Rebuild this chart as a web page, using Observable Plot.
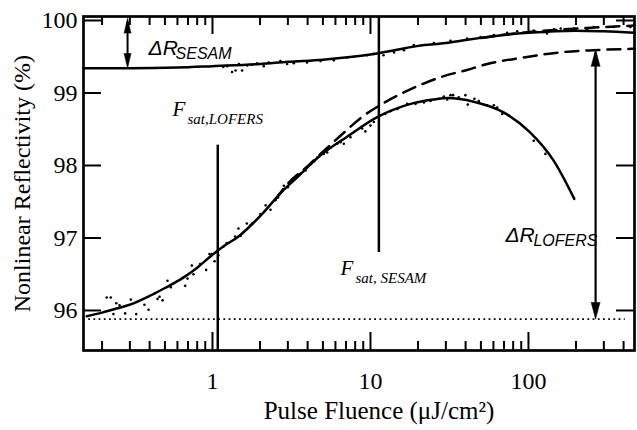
<!DOCTYPE html>
<html>
<head>
<meta charset="utf-8">
<script src="https://cdn.jsdelivr.net/npm/d3@7"></script>
<script src="https://cdn.jsdelivr.net/npm/@observablehq/plot@0.6"></script>
<style>
  html, body { margin: 0; padding: 0; background: #fff; }
  #chart svg { display: block; }
</style>
</head>
<body>
<div id="chart"></div>
<script>
// ---- Data ----
// Fit curve: SESAM (solid)
const sesamFitX = [0.1526, 0.3, 0.6, 1, 2, 3, 5, 10, 15, 20, 30, 40, 50, 70, 100, 200, 300, 469];
const sesamFitY = [99.34, 99.34, 99.35, 99.37, 99.40, 99.43, 99.46, 99.53, 99.60, 99.65, 99.69, 99.73, 99.76, 99.80, 99.83, 99.86, 99.85, 99.83];
// SESAM model without TPA (dashed)
const sesamDashX = [50, 100, 150, 250, 469];
const sesamDashY = [99.76, 99.84, 99.87, 99.90, 99.93];
// SESAM measured points
const sesamDotX = [1.17, 1.24, 1.33, 1.40, 1.47, 1.54, 1.66, 1.78, 1.92, 2.11, 2.27, 2.69, 2.97, 3.27, 3.97, 4.83, 5.86, 7.12, 7.85, 9.53, 10.5, 12.1, 14.1, 16.3, 18.8, 25.2, 32.1, 40.9, 49.7, 60.4, 73.3, 84.8, 108, 125, 131, 145, 160, 194, 235, 259, 347, 442];
const sesamDotY = [99.36, 99.37, 99.29, 99.31, 99.40, 99.31, 99.38, 99.39, 99.41, 99.37, 99.42, 99.44, 99.40, 99.41, 99.42, 99.44, 99.45, 99.49, 99.50, 99.52, 99.54, 99.52, 99.56, 99.59, 99.66, 99.69, 99.72, 99.75, 99.77, 99.80, 99.83, 99.85, 99.86, 99.84, 99.82, 99.88, 99.89, 99.89, 99.88, 99.91, 99.91, 99.91];

// Fit curve: LOFERS (solid)
const lofersFitX = [0.16, 0.2, 0.25, 0.3, 0.4, 0.5, 0.65, 0.8, 1.0, 1.2, 1.44, 1.82, 2.1, 2.7, 3.45, 4.83, 7.15, 11.1, 14, 18.7, 25, 31, 45, 70, 102, 144, 195];
const lofersFitY = [95.92, 95.97, 96.03, 96.08, 96.20, 96.31, 96.45, 96.59, 96.77, 96.90, 97.01, 97.21, 97.35, 97.62, 97.84, 98.14, 98.40, 98.67, 98.77, 98.86, 98.91, 98.93, 98.88, 98.73, 98.46, 98.07, 97.54];
// LOFERS model without TPA (dashed)
const lofersDashX = [2.5, 3, 4, 5, 6.46, 8.85, 12.1, 16, 21.7, 29.8, 39.8, 55, 93, 158, 256, 469];
const lofersDashY = [97.53, 97.75, 97.99, 98.19, 98.41, 98.67, 98.86, 99.00, 99.13, 99.24, 99.31, 99.40, 99.49, 99.56, 99.59, 99.61];
// LOFERS measured points
const lofersDotX = [0.214, 0.227, 0.236, 0.246, 0.258, 0.280, 0.304, 0.329, 0.371, 0.394, 0.428, 0.449, 0.462, 0.483, 0.519, 0.545, 0.649, 0.672, 0.695, 0.740, 0.758, 0.836, 0.912, 0.957, 0.99, 1.03, 1.09, 1.17, 1.23, 1.39, 1.46, 1.51, 1.65, 1.73, 1.78, 2.01, 2.17, 2.33, 2.5, 2.6, 2.83, 3.0, 3.2, 3.35, 3.61, 3.88, 4.2, 4.4, 4.6, 5.06, 5.32, 6.15, 6.46, 6.78, 7.47, 8.85, 9.29, 10, 10.5, 12.4, 13.4, 14.8, 17.1, 19.3, 21.8, 24.0, 27.1, 29.1, 30.6, 32.1, 33.3, 36.2, 39.9, 41.3, 45.5, 48.5, 54.8, 60.4, 63.4, 68.2, 75.1, 108, 128];
const lofersDotY = [96.18, 96.18, 95.95, 96.10, 96.07, 95.96, 96.15, 95.95, 96.08, 96.01, 96.23, 96.16, 96.19, 96.14, 96.41, 96.32, 96.45, 96.34, 96.44, 96.62, 96.50, 96.64, 96.56, 96.78, 96.78, 96.68, 96.76, 96.88, 96.93, 97.02, 97.13, 97.03, 97.20, 97.17, 97.20, 97.33, 97.45, 97.39, 97.52, 97.56, 97.72, 97.70, 97.79, 97.84, 97.89, 97.93, 98.02, 98.06, 98.11, 98.16, 98.18, 98.30, 98.32, 98.30, 98.39, 98.51, 98.47, 98.55, 98.60, 98.71, 98.75, 98.78, 98.85, 98.85, 98.87, 98.89, 98.92, 98.95, 98.91, 98.97, 98.97, 98.94, 98.97, 98.84, 98.92, 98.89, 98.83, 98.83, 98.80, 98.71, 98.69, 98.34, 98.16];

// Axis ticks
const xMajorTicks = [1, 10, 100];
const xMinorTicks = [0.2, 0.3, 0.4, 0.5, 0.6, 0.7, 0.8, 0.9, 2, 3, 4, 5, 6, 7, 8, 9, 20, 30, 40, 50, 60, 70, 80, 90, 200, 300, 400];
const yMajorTicks = [96, 97, 98, 99, 100];
const xTickLabels = ["1", "10", "100"];

// Annotation values
const baselineR = 95.88;          // dotted line (initial reflectivity asymptote)
const fsatLofers = 1.08;          // saturation fluence LOFERS
const fsatSesam = 11.3;           // saturation fluence SESAM

// ---- Build ----
const zip = (xs, ys) => xs.map((x, i) => ({x, y: ys[i]}));
const W = 637, H = 430, mL = 83, mR = 3, mT = 16, mB = 80;
const innerW = W - mL - mR, innerH = H - mT - mB;
const serif = "'Liberation Serif', 'Times New Roman', serif";
const sans = "'Liberation Sans', Arial, sans-serif";
const xDom = [0.1526, 469], yDom = [95.448, 100.055];

const chart = Plot.plot({
  width: W, height: H,
  marginLeft: mL, marginRight: mR, marginTop: mT, marginBottom: mB,
  x: {type: "log", domain: xDom, axis: null},
  y: {domain: yDom, axis: null},
  style: {fontFamily: serif, background: "white", color: "black", overflow: "visible"},
  marks: [
    // dotted baseline
    Plot.ruleY([baselineR], {x1: xDom[0], x2: 410, stroke: "black", strokeWidth: 1.8, strokeDasharray: "1.8,3.4"}),
    // dashed model curves
    Plot.line(zip(sesamDashX, sesamDashY), {x: "x", y: "y", curve: "monotone-x", stroke: "black", strokeWidth: 2.5, strokeDasharray: "13,8"}),
    Plot.line(zip(lofersDashX, lofersDashY), {x: "x", y: "y", curve: "monotone-x", stroke: "black", strokeWidth: 2.5, strokeDasharray: "13,8"}),
    // measured points
    Plot.dot(zip(sesamDotX, sesamDotY), {x: "x", y: "y", r: 1.3, fill: "black"}),
    Plot.dot(zip(lofersDotX, lofersDotY), {x: "x", y: "y", r: 1.3, fill: "black"}),
    // fits
    Plot.line(zip(sesamFitX, sesamFitY), {x: "x", y: "y", curve: "monotone-x", stroke: "black", strokeWidth: 2.5}),
    Plot.line(zip(lofersFitX, lofersFitY), {x: "x", y: "y", curve: "monotone-x", stroke: "black", strokeWidth: 2.5}),
    // saturation fluence markers
    Plot.ruleX([fsatLofers], {y1: yDom[0], y2: 98.28, stroke: "black", strokeWidth: 2.5}),
    Plot.ruleX([fsatSesam], {y1: 96.8, y2: yDom[1], stroke: "black", strokeWidth: 2.5}),
    // Delta R SESAM double arrow
    Plot.ruleX([0.29], {y1: 99.40, y2: 99.98, stroke: "black", strokeWidth: 2}),
    Plot.vector([{x: 0.29, y: 100.03}], {x: "x", y: "y", length: 15, r: 3.5, shape: "spike", anchor: "end", rotate: 0, fill: "black", stroke: "black", strokeWidth: 0.5}),
    Plot.vector([{x: 0.29, y: 99.34}], {x: "x", y: "y", length: 15, r: 3.5, shape: "spike", anchor: "end", rotate: 180, fill: "black", stroke: "black", strokeWidth: 0.5}),
    // Delta R LOFERS double arrow
    Plot.ruleX([266], {y1: 95.95, y2: 99.55, stroke: "black", strokeWidth: 2.2}),
    Plot.vector([{x: 266, y: 99.60}], {x: "x", y: "y", length: 17, r: 4.5, shape: "spike", anchor: "end", rotate: 0, fill: "black", stroke: "black", strokeWidth: 0.5}),
    Plot.vector([{x: 266, y: baselineR}], {x: "x", y: "y", length: 17, r: 4.5, shape: "spike", anchor: "end", rotate: 180, fill: "black", stroke: "black", strokeWidth: 0.5}),
    // annotation texts
    Plot.text(["F"], {x: 0.558, y: 98.676, text: d => d, textAnchor: "start", lineAnchor: "bottom", fontSize: 21, fontStyle: "italic", fontFamily: serif}),
    Plot.text(["sat,LOFERS"], {x: 0.558, y: 98.676, text: d => d, dx: 15, dy: 8, textAnchor: "start", lineAnchor: "bottom", fontSize: 15, fontStyle: "italic", fontFamily: serif}),
    Plot.text(["F"], {x: 6.46, y: 96.483, text: d => d, textAnchor: "start", lineAnchor: "bottom", fontSize: 21, fontStyle: "italic", fontFamily: serif}),
    Plot.text(["sat, SESAM"], {x: 6.46, y: 96.483, text: d => d, dx: 15, dy: 8, textAnchor: "start", lineAnchor: "bottom", fontSize: 15, fontStyle: "italic", fontFamily: serif}),
    Plot.text(["ΔR"], {x: 0.394, y: 99.53, text: d => d, textAnchor: "start", lineAnchor: "bottom", fontSize: 21, fontStyle: "italic", fontFamily: sans}),
    Plot.text(["SESAM"], {x: 0.394, y: 99.53, text: d => d, dx: 27, dy: 4, textAnchor: "start", lineAnchor: "bottom", fontSize: 16, fontStyle: "italic", fontFamily: sans}),
    Plot.text(["ΔR"], {x: 71.5, y: 96.95, text: d => d, textAnchor: "start", lineAnchor: "bottom", fontSize: 21, fontStyle: "italic", fontFamily: sans}),
    Plot.text(["LOFERS"], {x: 71.5, y: 96.95, text: d => d, dx: 28, dy: 4, textAnchor: "start", lineAnchor: "bottom", fontSize: 16, fontStyle: "italic", fontFamily: sans}),
    // ticks (inward)
    Plot.ruleX(xMajorTicks, {x: d => d, insetTop: innerH - 18, stroke: "black", strokeWidth: 2}),
    Plot.ruleX(xMajorTicks, {x: d => d, insetBottom: innerH - 18, stroke: "black", strokeWidth: 2}),
    Plot.ruleX(xMinorTicks, {x: d => d, insetTop: innerH - 9, stroke: "black", strokeWidth: 2}),
    Plot.ruleX(xMinorTicks, {x: d => d, insetBottom: innerH - 9, stroke: "black", strokeWidth: 2}),
    Plot.ruleY(yMajorTicks, {y: d => d, insetRight: innerW - 18, stroke: "black", strokeWidth: 2}),
    Plot.ruleY(yMajorTicks, {y: d => d, insetLeft: innerW - 18, stroke: "black", strokeWidth: 2}),
    // tick labels
    Plot.text(yMajorTicks, {y: d => d, text: d => String(d), frameAnchor: "left", dx: -6, textAnchor: "end", fontSize: 24, fontFamily: serif}),
    Plot.text(xMajorTicks, {x: d => d, text: (d, i) => xTickLabels[i], frameAnchor: "bottom", dy: 38, lineAnchor: "bottom", fontSize: 24, fontFamily: serif}),
    // axis titles
    Plot.text(["Nonlinear Reflectivity (%)"], {x: 0.0627, y: 97.75, text: d => d, rotate: -90, fontSize: 24, fontFamily: serif}),
    Plot.text(["Pulse Fluence (μJ/cm²)"], {text: d => d, frameAnchor: "bottom", dx: 20, dy: 68, lineAnchor: "bottom", fontSize: 25, fontFamily: serif}),
    Plot.frame({stroke: "black", strokeWidth: 2.7})
  ]
});
document.getElementById("chart").appendChild(chart);
</script>
</body>
</html>
